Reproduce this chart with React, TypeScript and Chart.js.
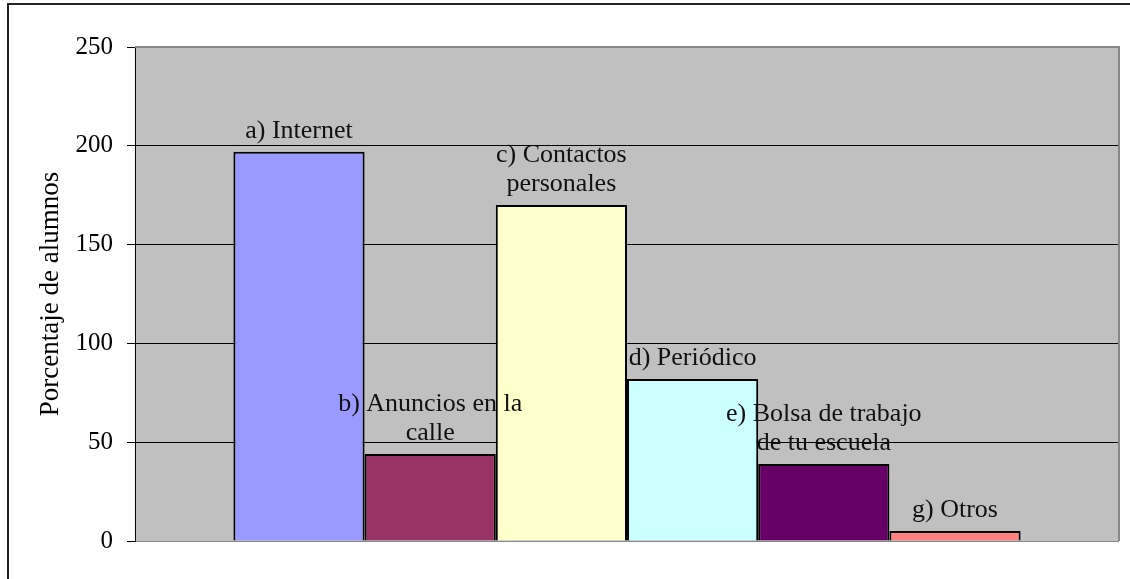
import React, { useEffect, useRef } from "react";
import { Chart, registerables } from "chart.js";

Chart.register(...registerables);

const categories: string[] = [""];
const seriesLabels: string[][] = [
  ["a) Internet"],
  ["b) Anuncios en la", "calle"],
  ["c) Contactos", "personales"],
  ["d) Periódico"],
  ["e) Bolsa de trabajo", "de tu escuela"],
  ["g) Otros"],
];
const seriesValues: number[] = [197, 44, 170, 82, 39, 5];
const seriesColors: string[] = ["#9999FF", "#993366", "#FFFFCC", "#CCFFFF", "#660066", "#FF8080"];
const yTicks: number[] = [0, 50, 100, 150, 200, 250];
const yTitle = "Porcentaje de alumnos";

const SERIF = "'Liberation Serif', 'DejaVu Serif', serif";

const plotBg = {
  id: "plotBg",
  beforeDraw(chart: any) {
    const { ctx, chartArea: a } = chart;
    ctx.save();
    ctx.fillStyle = "#C0C0C0";
    ctx.fillRect(a.left, a.top, a.right - a.left, a.bottom - a.top);
    ctx.restore();
  },
  afterDatasetsDraw(chart: any) {
    const { ctx, chartArea: a } = chart;
    ctx.save();
    ctx.strokeStyle = "#888888";
    ctx.lineWidth = 2;
    ctx.beginPath();
    ctx.moveTo(a.left, a.top);
    ctx.lineTo(a.right, a.top);
    ctx.lineTo(a.right, a.bottom);
    ctx.stroke();
    ctx.restore();
  },
};

const barLabels = {
  id: "barLabels",
  afterDatasetsDraw(chart: any) {
    const { ctx } = chart;
    ctx.save();
    ctx.font = `26px ${SERIF}`;
    ctx.fillStyle = "#111";
    ctx.textAlign = "center";
    ctx.textBaseline = "alphabetic";
    chart.data.datasets.forEach((ds: any, i: number) => {
      const meta = chart.getDatasetMeta(i);
      const el = meta.data[0];
      if (!el) return;
      const lines: string[] = seriesLabels[i];
      const lh = 29;
      let y = el.y - 14;
      for (let k = lines.length - 1; k >= 0; k--) {
        ctx.fillText(lines[k], el.x, y);
        y -= lh;
      }
    });
    ctx.restore();
  },
};

export default function App() {
  const ref = useRef<HTMLCanvasElement | null>(null);
  useEffect(() => {
    if (!ref.current) return;
    const chart = new Chart(ref.current, {
      type: "bar",
      data: {
        labels: categories,
        datasets: seriesLabels.map((l, i) => ({
          label: l.join(" "),
          data: [seriesValues[i]],
          backgroundColor: seriesColors[i],
          borderColor: "#000000",
          borderWidth: 2,
          categoryPercentage: 0.8,
          barPercentage: 1.0,
        })),
      },
      options: {
        animation: false,
        responsive: false,
        layout: { padding: { left: 0, top: 47, right: 11, bottom: 38 } },
        plugins: { legend: { display: false }, tooltip: { enabled: false }, title: { display: false } },
        scales: {
          x: { display: false, grid: { display: false } },
          y: {
            min: 0,
            max: 250,
            afterFit: (scale: any) => {
              scale.width = 135;
            },
            afterBuildTicks: (scale: any) => {
              scale.ticks = yTicks.map((v) => ({ value: v }));
            },
            ticks: {
              font: { family: SERIF, size: 25 },
              color: "#000",
              padding: 14,
            },
            grid: {
              color: (c: any) => (c.tick && (c.tick.value === 0 || c.tick.value === 250) ? "#888888" : "#000000"),
              tickColor: "#000000",
              tickLength: 8,
              lineWidth: 1,
            },
            border: { color: "#000000", width: 1 },
            title: {
              display: true,
              text: yTitle,
              font: { family: SERIF, size: 27 },
              color: "#000",
              padding: { top: 35, bottom: 0 },
            },
          },
        },
      },
      plugins: [plotBg, barLabels],
    });
    return () => chart.destroy();
  }, []);
  return (
    <div style={{ position: "fixed", left: 0, top: 0, width: 1130, height: 579, overflow: "hidden", background: "#fff" }}>
      <div style={{ position: "absolute", left: 7, top: 3, width: 1200, height: 700, border: "2px solid #222" }} />
      <canvas ref={ref} width={1130} height={579} style={{ position: "absolute", left: 0, top: 0, width: 1130, height: 579 }} />
    </div>
  );
}
